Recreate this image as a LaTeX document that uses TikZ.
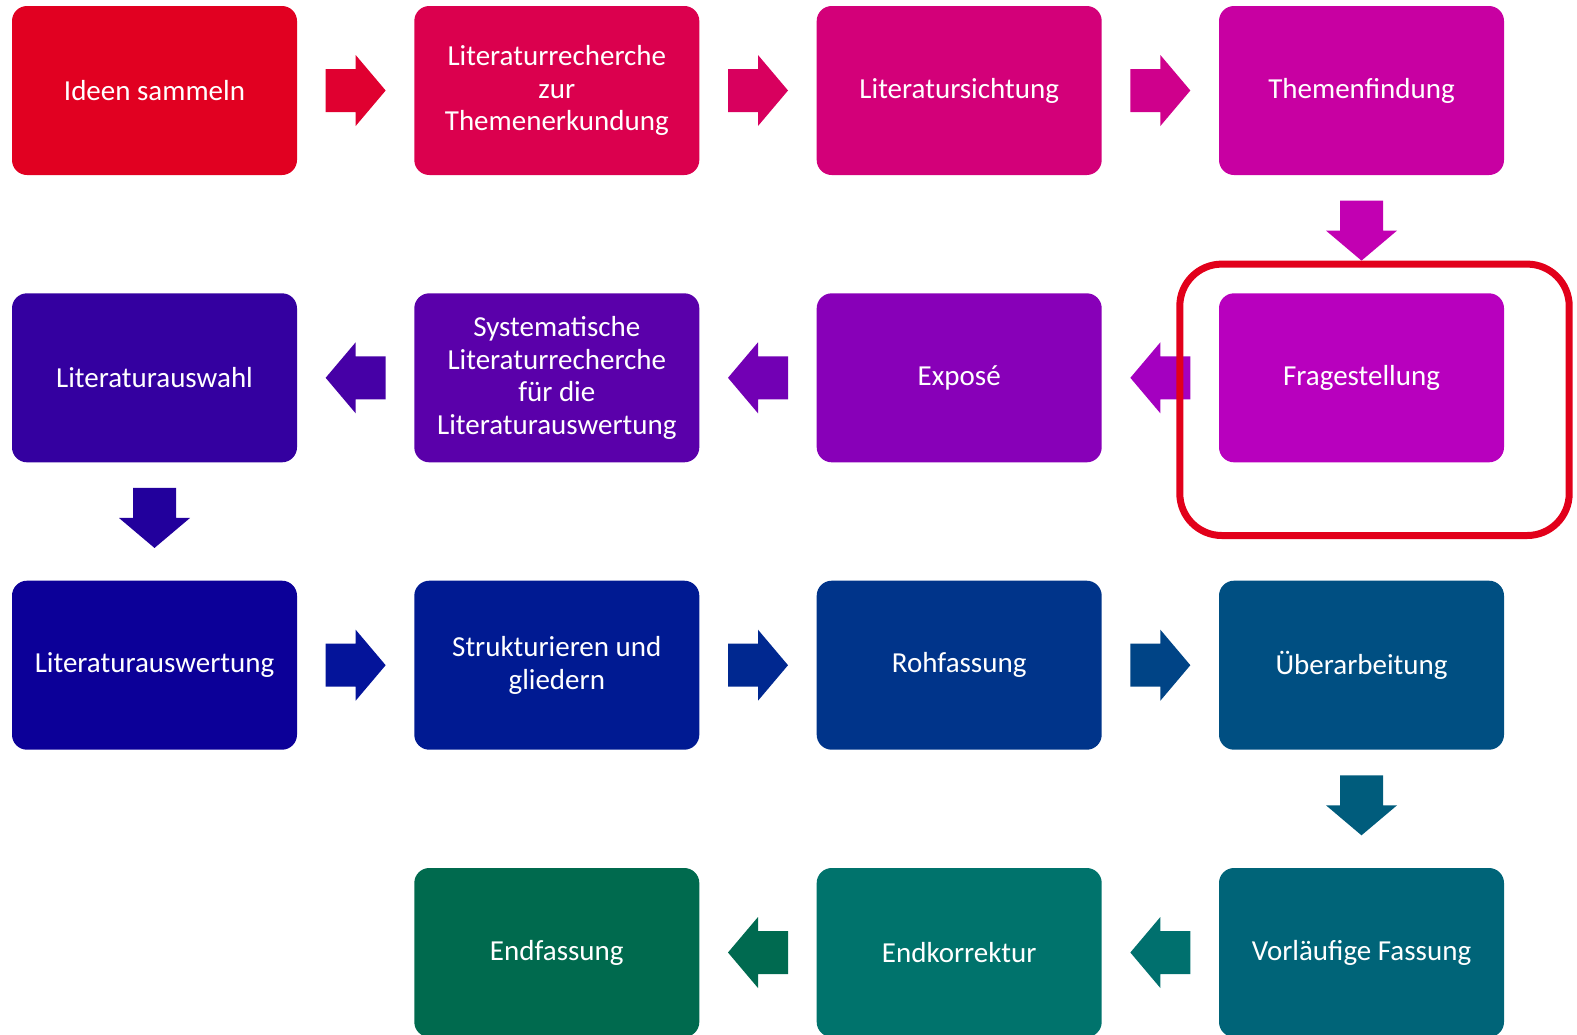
\documentclass[tikz,border=0pt]{standalone}
\usepackage{fontspec}
\setmainfont{Carlito}
\usetikzlibrary{calc}

% box fills
\definecolor{cA}{HTML}{E10021}
\definecolor{cB}{HTML}{DB004E}
\definecolor{cC}{HTML}{D30079}
\definecolor{cD}{HTML}{C800A2}
\definecolor{cE}{HTML}{B800BE}
\definecolor{cF}{HTML}{8800B8}
\definecolor{cG}{HTML}{5A00AA}
\definecolor{cH}{HTML}{3400A0}
\definecolor{cI}{HTML}{0C0098}
\definecolor{cJ}{HTML}{001A92}
\definecolor{cK}{HTML}{00348A}
\definecolor{cL}{HTML}{004F82}
\definecolor{cM}{HTML}{006478}
\definecolor{cN}{HTML}{00736C}
\definecolor{cO}{HTML}{006A4E}
% arrow fills
\definecolor{aAB}{HTML}{E00030}
\definecolor{aBC}{HTML}{D8005E}
\definecolor{aCD}{HTML}{CF008C}
\definecolor{aDE}{HTML}{C200B2}
\definecolor{aEF}{HTML}{A400C0}
\definecolor{aFG}{HTML}{7200B4}
\definecolor{aGH}{HTML}{4600A6}
\definecolor{aHI}{HTML}{22009C}
\definecolor{aIJ}{HTML}{04149A}
\definecolor{aJK}{HTML}{002890}
\definecolor{aKL}{HTML}{004486}
\definecolor{aLM}{HTML}{005C7C}
\definecolor{aMN}{HTML}{00706E}
\definecolor{aNO}{HTML}{006A50}
\definecolor{hilite}{HTML}{E2001A}

\tikzset{
  x=1pt, y=1pt,
  stepbox/.style={rectangle, rounded corners=15pt, minimum width=285pt,
    minimum height=169pt, inner sep=0pt, text=white, align=center,
    font=\fontsize{29}{32.5}\selectfont},
  blockarrow/.pic={
    \fill (-30,-21.5) -- (0,-21.5) -- (0,-35.5) -- (30,0) -- (0,35.5)
      -- (0,21.5) -- (-30,21.5) -- cycle;
  }
}

\begin{document}
\begin{tikzpicture}
\useasboundingbox (0,0) rectangle (1577,-1034);

% row 1
\node[stepbox, fill=cA] (ideen)  at (154.5,-90.5) {Ideen sammeln};
\node[stepbox, fill=cB] (recher) at (556.8,-90.5) {Literaturrecherche\\zur\\Themenerkundung};
\node[stepbox, fill=cC] (sicht)  at (959.2,-90.5) {Literatursichtung};
\node[stepbox, fill=cD] (thema)  at (1361.5,-90.5) {Themenfindung};
% row 2
\node[stepbox, fill=cE] (frage)  at (1361.5,-377.8) {Fragestellung};
\node[stepbox, fill=cF] (expose) at (959.2,-377.8) {Exposé};
\node[stepbox, fill=cG] (system) at (556.8,-377.8) {Systematische\\Literaturrecherche\\für die\\Literaturauswertung};
\node[stepbox, fill=cH] (auswahl) at (154.5,-377.8) {Literaturauswahl};
% row 3
\node[stepbox, fill=cI] (auswert) at (154.5,-665.2) {Literaturauswertung};
\node[stepbox, fill=cJ] (glied)  at (556.8,-665.2) {Strukturieren und\\gliedern};
\node[stepbox, fill=cK] (roh)    at (959.2,-665.2) {Rohfassung};
\node[stepbox, fill=cL] (ueber)  at (1361.5,-665.2) {Überarbeitung};
% row 4
\node[stepbox, fill=cM] (vorl)   at (1361.5,-952.5) {Vorläufige Fassung};
\node[stepbox, fill=cN] (korr)   at (959.2,-952.5) {Endkorrektur};
\node[stepbox, fill=cO] (endf)   at (556.8,-952.5) {Endfassung};

% block arrows between consecutive steps
\path ($(ideen.east)!0.5!(recher.west)$) pic[fill=aAB] {blockarrow};
\path ($(recher.east)!0.5!(sicht.west)$) pic[fill=aBC] {blockarrow};
\path ($(sicht.east)!0.5!(thema.west)$) pic[fill=aCD] {blockarrow};
\path ($(thema.south)!0.47!(frage.north)$) pic[fill=aDE, rotate=-90] {blockarrow};
\path ($(frage.west)!0.5!(expose.east)$) pic[fill=aEF, rotate=180] {blockarrow};
\path ($(expose.west)!0.5!(system.east)$) pic[fill=aFG, rotate=180] {blockarrow};
\path ($(system.west)!0.5!(auswahl.east)$) pic[fill=aGH, rotate=180] {blockarrow};
\path ($(auswahl.south)!0.47!(auswert.north)$) pic[fill=aHI, rotate=-90] {blockarrow};
\path ($(auswert.east)!0.5!(glied.west)$) pic[fill=aIJ] {blockarrow};
\path ($(glied.east)!0.5!(roh.west)$) pic[fill=aJK] {blockarrow};
\path ($(roh.east)!0.5!(ueber.west)$) pic[fill=aKL] {blockarrow};
\path ($(ueber.south)!0.47!(vorl.north)$) pic[fill=aLM, rotate=-90] {blockarrow};
\path ($(vorl.west)!0.5!(korr.east)$) pic[fill=aMN, rotate=180] {blockarrow};
\path ($(korr.west)!0.5!(endf.east)$) pic[fill=aNO, rotate=180] {blockarrow};

% highlight frame around the current step
\draw[hilite, line width=7pt, rounded corners=42pt]
  ($(frage.north west)+(-39,29)$) rectangle ($(frage.south east)+(65,-73)$);
\end{tikzpicture}
\end{document}
